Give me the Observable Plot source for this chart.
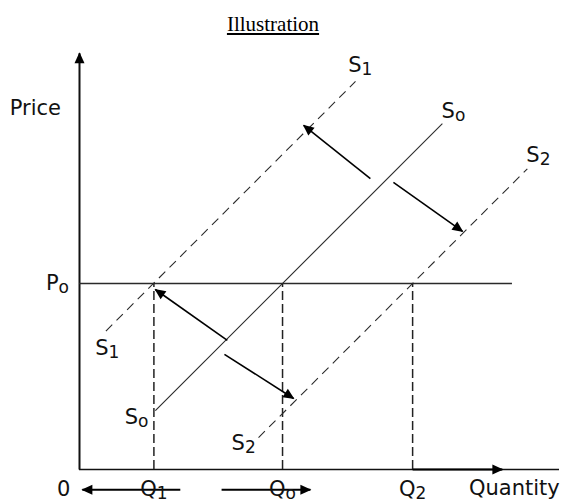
<!DOCTYPE html>
<html><head><meta charset="utf-8">
<script src="https://cdn.jsdelivr.net/npm/d3@7"></script>
<script src="https://cdn.jsdelivr.net/npm/@observablehq/plot@0.6"></script>
<style>
body{margin:0;background:#fff;width:566px;height:503px;overflow:hidden;}
#title{position:relative;height:40px;}
#title span{position:absolute;left:273px;top:12px;transform:translateX(-50%);font-family:"Liberation Serif","Times New Roman",serif;font-size:21px;text-decoration:underline;color:#000;white-space:nowrap;}
#chart svg{display:block;}
</style></head><body>
<div id="title"><span>Illustration</span></div>
<div id="chart"></div>
<script>
// ---- data (abstract quantity / price units) ----
const quantityLabels = ["Q_1", "Q_o", "Q_2"];
const quantityValues = [1.55, 4.23, 6.94];
const priceLabel = "P_o";
const priceValue = 3.875;
const priceLineEnd = 9.02;

const supplyNames = ["S_1", "S_o", "S_2"];
const supplyIntercepts = [2.335, -0.355, -3.065]; // price = quantity + intercept
const supplyLow = [0.55, 1.58, 3.73];   // quantity at lower end
const supplyHigh = [5.75, 7.56, 9.33];  // quantity at upper end
const supplyTopLabelX = [5.85, 7.79, 9.56];
const supplyTopLabelY = [8.42, 7.46, 6.54];
const supplyLowLabelX = [0.58, 1.19, 3.42];
const supplyLowLabelY = [2.52, 1.08, 0.54];

// shift arrows (from -> to)
const shiftFromX = [6.06, 6.54, 3.08, 3.02];
const shiftFromY = [6.06, 5.98, 2.69, 2.40];
const shiftToX = [4.67, 7.98, 1.58, 4.46];
const shiftToY = [7.17, 4.96, 3.75, 1.48];

// quantity-change arrows under the axis
const qArrowFromX = [2.10, 2.96, 6.94];
const qArrowToX = [0.06, 4.81, 8.81];
const qArrowY = [-0.42, -0.42, 0];

const axisTopPrice = 8.67;
const axisEndQuantity = 10;
const axisTitles = ["Price", "Quantity", "0"];
const axisTitleX = [-0.92, 9.06, -0.33];
const axisTitleY = [7.52, -0.40, -0.42];

// ---- tables built from the arrays ----
const supply = supplyNames.map((name, i) => ({
  name, x1: supplyLow[i], y1: supplyLow[i] + supplyIntercepts[i],
  x2: supplyHigh[i], y2: supplyHigh[i] + supplyIntercepts[i]
}));
const supplyLabels = supplyNames.flatMap((name, i) => [
  {name, x: supplyTopLabelX[i], y: supplyTopLabelY[i]},
  {name, x: supplyLowLabelX[i], y: supplyLowLabelY[i]}
]);
const shifts = shiftFromX.map((_, i) => ({x1: shiftFromX[i], y1: shiftFromY[i], x2: shiftToX[i], y2: shiftToY[i]}));
const qArrows = qArrowFromX.map((_, i) => ({x1: qArrowFromX[i], x2: qArrowToX[i], y: qArrowY[i]}));
const qTicks = quantityLabels.map((label, i) => ({label, q: quantityValues[i]}));
const titles = axisTitles.map((t, i) => ({t, x: axisTitleX[i], y: axisTitleY[i]}));

const font = {fontFamily: "DejaVu Sans, Verdana, sans-serif", fontSize: 21, fill: "#111"};
const lineColor = "#2a2a2a";

const chart = Plot.plot({
  width: 566, height: 463, margin: 0,
  x: {domain: [0, 10], range: [79, 559], axis: null},
  y: {domain: [0, 10], range: [429, -51], axis: null},
  marks: [
    // axes
    Plot.ruleY([0], {x1: 0, x2: axisEndQuantity, stroke: "#111", strokeWidth: 1.5}),
    Plot.link([0], {x1: 0, x2: 0, y1: 0, y2: axisTopPrice, stroke: "#111", strokeWidth: 2, markerEnd: "arrow"}),
    // price line
    Plot.ruleY([priceValue], {x1: 0, x2: priceLineEnd, stroke: lineColor, strokeWidth: 1.3}),
    // quantity drop lines
    Plot.ruleX(quantityValues, {y1: 0, y2: priceValue, stroke: "#222", strokeWidth: 1.5, strokeDasharray: "9,4"}),
    // supply curves
    Plot.link(supply.filter(d => d.name === "S_o"), {x1: "x1", y1: "y1", x2: "x2", y2: "y2", stroke: lineColor, strokeWidth: 1.1}),
    Plot.link(supply.filter(d => d.name !== "S_o"), {x1: "x1", y1: "y1", x2: "x2", y2: "y2", stroke: lineColor, strokeWidth: 1.1, strokeDasharray: "9,6"}),
    // shift arrows
    Plot.link(shifts, {x1: "x1", y1: "y1", x2: "x2", y2: "y2", stroke: "#000", strokeWidth: 1.6, markerEnd: "arrow"}),
    // quantity-change arrows
    Plot.link(qArrows, {x1: "x1", x2: "x2", y1: "y", y2: "y", stroke: "#000", strokeWidth: 2, markerEnd: "arrow"}),
    // labels
    Plot.text(supplyLabels, {x: "x", y: "y", text: "name", ...font}),
    Plot.text(qTicks, {x: "q", y: -0.42, text: "label", ...font}),
    Plot.text([priceLabel], {x: -0.46, y: priceValue, text: d => d, ...font}),
    Plot.text(titles, {x: "x", y: "y", text: "t", ...font})
  ]
});

const svg = d3.select(chart);
// filled triangular arrowheads
svg.selectAll("marker")
  .attr("overflow", "visible")
  .attr("markerUnits", "userSpaceOnUse")
  .attr("markerWidth", 10).attr("markerHeight", 10)
  .attr("fill", "#000").attr("stroke", "none")
  .select("path").attr("d", "M-10,-5L1,0L-10,5Z");
// subscripts
svg.selectAll("text").each(function () {
  const s = this.textContent;
  if (!s.includes("_")) return;
  const [main, sub] = s.split("_");
  const t = d3.select(this);
  t.text(null);
  t.append("tspan").text(main);
  t.append("tspan").attr("font-size", 17).attr("dy", "0.18em").text(sub);
});
document.getElementById("chart").appendChild(chart);
</script>
</body></html>
